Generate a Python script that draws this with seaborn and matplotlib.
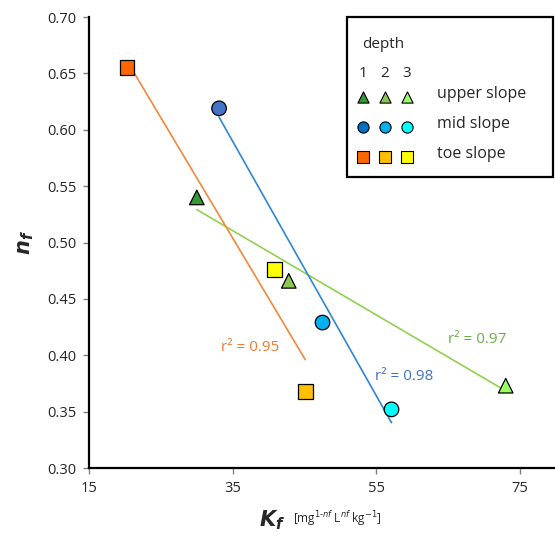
import pandas as pd
import matplotlib.pyplot as plt
import matplotlib.patches as mpatches
import seaborn as sns

# data
position = ["upper slope"] * 3 + ["mid slope"] * 3 + ["toe slope"] * 3
depth = [1, 2, 3] * 3
kf = [30.0, 42.8, 73.0, 33.1, 47.5, 57.1, 20.3, 45.1, 40.8]
nf = [0.540, 0.466, 0.373, 0.619, 0.429, 0.352, 0.655, 0.368, 0.476]

point_colors = ["#339933", "#8DC653", "#99FF66",
                "#4472C4", "#00B0F0", "#00FFFF",
                "#FF6600", "#FFC000", "#FFFF00"]
legend_colors = ["#339933", "#8DC653", "#99FF66",
                 "#0070C0", "#00B0F0", "#00FFFF",
                 "#FF6600", "#FFC000", "#FFFF00"]
groups = ["upper slope", "mid slope", "toe slope"]
markers = {"upper slope": "^", "mid slope": "o", "toe slope": "s"}
line_colors = {"upper slope": "#92D050", "mid slope": "#2E86D6", "toe slope": "#F4873B"}
r2 = {"upper slope": "0.97", "mid slope": "0.98", "toe slope": "0.95"}
r2_colors = {"upper slope": "#70AD47", "mid slope": "#4472C4", "toe slope": "#ED7D31"}
r2_pos = {"upper slope": (69.0, 0.414), "mid slope": (58.9, 0.381), "toe slope": (37.4, 0.407)}

df = pd.DataFrame({"Kf": kf, "nf": nf, "position": position, "depth": depth})
df["key"] = df["position"] + " " + df["depth"].astype(str)
palette = dict(zip(df["key"], point_colors))

sns.set_style("white")
plt.rcParams["font.family"] = ["Open Sans", "DejaVu Sans"]

fig = plt.figure(figsize=(5.55, 5.4), dpi=100)
ax = fig.add_axes([0.1604, 0.1333, 0.8414, 0.8352])

# regression lines
for g in groups:
    sub = df[df["position"] == g]
    sns.regplot(data=sub, x="Kf", y="nf", scatter=False, ci=None, truncate=True,
                line_kws=dict(color=line_colors[g], lw=1.2), ax=ax)
    x, y = r2_pos[g]
    ax.text(x, y, "r² = " + r2[g], color=r2_colors[g], fontsize=11,
            ha="center", va="center")

# points
sns.scatterplot(data=df, x="Kf", y="nf", hue="key", style="position",
                palette=palette, markers=markers, s=110, edgecolor="black",
                linewidth=0.9, legend=False, zorder=5, ax=ax)

ax.set_xlim(15, 80)
ax.set_ylim(0.30, 0.70)
ax.set_xticks([15, 35, 55, 75])
ax.set_yticks([0.30, 0.35, 0.40, 0.45, 0.50, 0.55, 0.60, 0.65, 0.70])
ax.set_yticklabels([f"{v:.2f}" for v in ax.get_yticks()])
ax.tick_params(axis="both", direction="out", length=4, width=1, color="#808080",
               labelsize=10.5, pad=5, bottom=True, left=True)
for side in ["top", "right"]:
    ax.spines[side].set_visible(False)
for side in ["left", "bottom"]:
    ax.spines[side].set_linewidth(1.6)
    ax.spines[side].set_color("black")

ax.set_xlabel("")
ax.set_ylabel(r"$\mathbfit{n_f}$", fontsize=15, labelpad=8)
fig.text(0.49, 0.036, r"$\mathbfit{K_f}$", fontsize=15, ha="center", va="center")
fig.text(0.608, 0.040, r"[mg$^{1\text{-}nf}$ L$^{nf}$ kg$^{-1}$]", fontsize=8.5,
         ha="center", va="center")

# hand-made legend box
box = mpatches.Rectangle((0.552, 0.645), 0.441, 0.355, transform=ax.transAxes,
                         fill=True, facecolor="white", edgecolor="black",
                         lw=1.6, zorder=6, clip_on=False)
ax.add_patch(box)
ax.text(0.585, 0.938, "depth", transform=ax.transAxes, fontsize=11, va="center", zorder=7)
mx = [0.587, 0.633, 0.680]
for i, lab in enumerate(["1", "2", "3"]):
    ax.text(mx[i], 0.875, lab, transform=ax.transAxes, fontsize=11,
            ha="center", va="center", zorder=7)
row_y = [0.822, 0.756, 0.690]
for r, g in enumerate(groups):
    for i in range(3):
        ax.scatter(mx[i], row_y[r], transform=ax.transAxes,
                   marker=markers[g], s=65, color=legend_colors[3 * r + i],
                   edgecolor="black", linewidth=0.8, zorder=8, clip_on=False)
    ax.text(0.745, row_y[r] + 0.007, g, transform=ax.transAxes, fontsize=11.5,
            va="center", zorder=8)

fig.savefig("out.png", dpi=100)
